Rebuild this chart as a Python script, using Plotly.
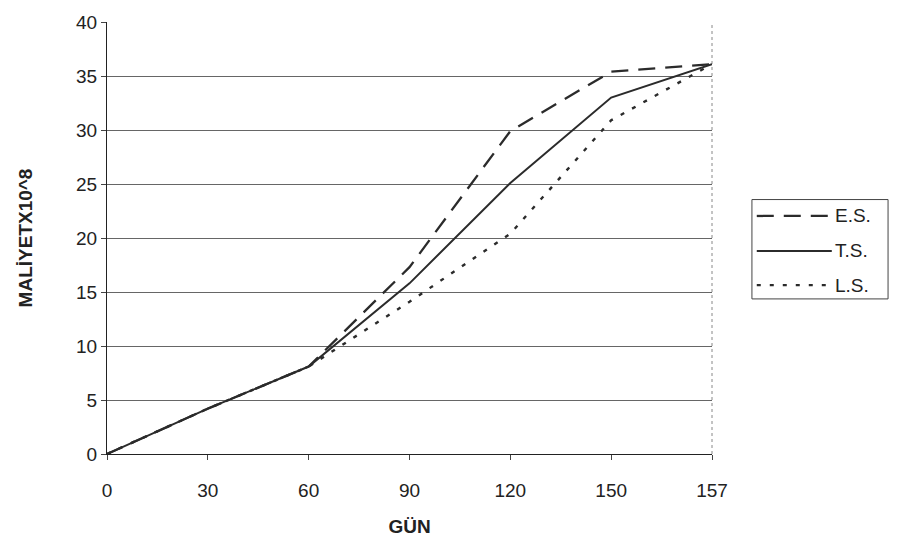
import plotly.graph_objects as go

days = ["0", "30", "60", "90", "120", "150", "157"]
es = [0, 4.2, 8.1, 17.3, 29.9, 35.4, 36.1]
ts = [0, 4.2, 8.1, 15.8, 25.1, 33.0, 36.1]
ls = [0, 4.2, 8.1, 14.1, 20.4, 30.9, 36.1]
y_ticks = [0, 5, 10, 15, 20, 25, 30, 35, 40]
series_names = ["E.S.", "T.S.", "L.S."]

FONT = "Liberation Sans, Arial, sans-serif"
INK = "#2b2b2b"
DASHES = ["17px,10px", "solid", "4px,9px"]
WIDTHS = [2.3, 2.0, 2.4]

fig = go.Figure()
for name, vals, dash, w in zip(series_names, [es, ts, ls], DASHES, WIDTHS):
    fig.add_trace(go.Scatter(x=days, y=vals, mode="lines", name=name,
                             line=dict(color=INK, width=w, dash=dash),
                             showlegend=False))

fig.update_layout(
    width=897, height=545,
    margin=dict(l=107, r=185, t=13, b=89),
    paper_bgcolor="white", plot_bgcolor="white",
    font=dict(family=FONT, size=19, color="#222"),
    xaxis=dict(type="category", range=[0, 6], showgrid=False,
               showline=True, linecolor="#222", linewidth=1.2,
               ticks="outside", ticklen=5, tickcolor="#444",
               tickfont=dict(size=19), ticklabelstandoff=14,
               title=dict(text="<b>GÜN</b>", font=dict(size=19), standoff=19),
               zeroline=False),
    yaxis=dict(range=[0, 40], tickvals=y_ticks, showgrid=True,
               gridcolor="#666", gridwidth=1,
               showline=True, linecolor="#222", linewidth=1.2,
               ticks="outside", ticklen=5, tickcolor="#444",
               tickfont=dict(size=19),
               title=dict(text="<b>MALİYETX10^8</b>", font=dict(size=19), standoff=38),
               zeroline=False),
)

# right border of plot area (dotted grey)
fig.add_shape(type="line", xref="paper", yref="paper", x0=1, x1=1, y0=0, y1=1,
              line=dict(color="#888", width=1, dash="dot"))

# legend box (drawn in paper coordinates)
fig.add_shape(type="rect", xref="paper", yref="paper",
              x0=1.066, x1=1.291, y0=0.359, y1=0.589,
              line=dict(color="#444", width=1), fillcolor="white")
leg_y = [0.551, 0.470, 0.391]
for name, dash, w, yy in zip(series_names, DASHES, WIDTHS, leg_y):
    fig.add_shape(type="line", xref="paper", yref="paper",
                  x0=1.074, x1=1.198, y0=yy, y1=yy,
                  line=dict(color=INK, width=w, dash=dash))
    fig.add_annotation(xref="paper", yref="paper", x=1.200, y=yy,
                       xanchor="left", yanchor="middle", text=name,
                       showarrow=False, font=dict(size=19, color="#222"))

fig.write_html("out.html")
